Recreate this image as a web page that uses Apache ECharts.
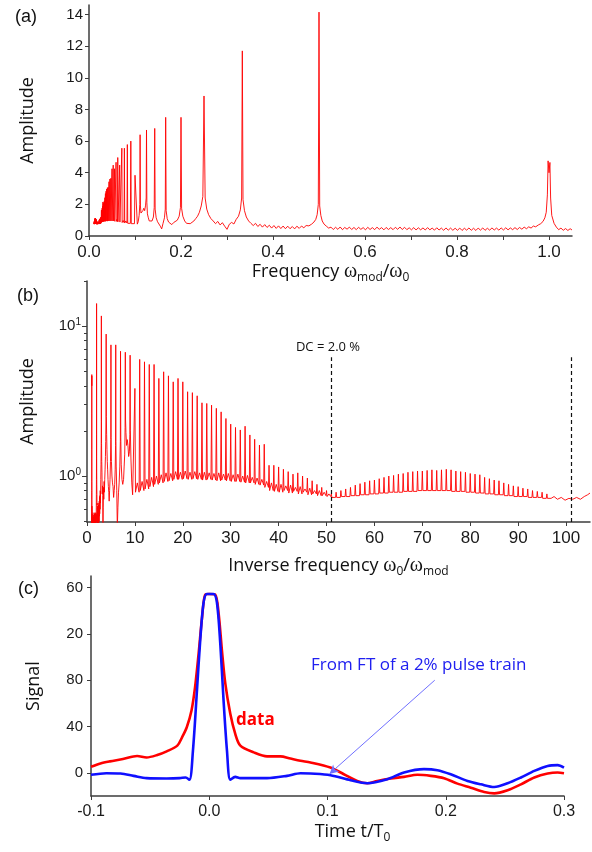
<!DOCTYPE html>
<html>
<head>
<meta charset="utf-8">
<script src="https://cdn.jsdelivr.net/npm/echarts@6/dist/echarts.min.js"></script>
<style>
  html, body { margin: 0; padding: 0; background: #fff; }
  #chart { width: 592px; height: 852px; }
</style>
</head>
<body>
<div id="chart"></div>
<script>
// (a)/(b): spectrum above omega_mod/omega_0 = 0.105, as [frequency, amplitude]
const spectrumHigh = [
  [0.105, 0.75], [0.107, 0.9], [0.109, 1.3], [0.1105, 2.0], [0.1111, 6.4], [0.1118, 1.9], [0.113, 1.45],
  [0.115, 1.35], [0.117, 1.6], [0.119, 1.75], [0.121, 1.6], [0.123, 1.95], [0.1243, 2.4], [0.125, 6.7], [0.1258, 2.1], [0.127, 1.4],
  [0.129, 1.15], [0.131, 0.95], [0.134, 0.88], [0.137, 0.95], [0.14, 1.2], [0.1418, 1.8], [0.1429, 6.8], [0.1438, 1.7], [0.146, 1.15],
  [0.149, 0.9], [0.152, 0.78], [0.155, 0.62], [0.158, 0.45], [0.161, 0.8], [0.164, 1.15], [0.1658, 1.7], [0.1667, 7.5], [0.1677, 1.6], [0.17, 1.1],
  [0.173, 0.88], [0.176, 0.8], [0.18, 0.72], [0.184, 0.85], [0.188, 0.9], [0.192, 1.0], [0.196, 1.25], [0.1988, 1.8], [0.2, 7.5], [0.2013, 1.75], [0.204, 1.25],
  [0.208, 0.95], [0.212, 0.8], [0.216, 0.68], [0.22, 0.78], [0.224, 0.85], [0.228, 0.95], [0.232, 1.1], [0.236, 1.25], [0.24, 1.5], [0.244, 1.9], [0.2475, 2.5], [0.25, 8.85], [0.2525, 2.4], [0.256, 1.7],
  [0.26, 1.35], [0.265, 1.1], [0.27, 0.95], [0.275, 0.78], [0.28, 0.92], [0.285, 0.7], [0.29, 0.84], [0.295, 0.62], [0.3, 0.42], [0.305, 0.74],
  [0.31, 0.86], [0.315, 0.76], [0.32, 1.05], [0.325, 1.25], [0.329, 1.65], [0.3318, 2.4], [0.3333, 11.7], [0.3348, 2.3], [0.338, 1.6], [0.342, 1.2],
  [0.347, 0.95], [0.352, 0.8], [0.357, 0.66], [0.362, 0.8], [0.367, 0.6], [0.372, 0.74], [0.377, 0.56], [0.382, 0.72], [0.387, 0.54], [0.392, 0.68],
  [0.397, 0.5], [0.402, 0.66], [0.407, 0.48], [0.412, 0.64], [0.417, 0.47], [0.422, 0.63], [0.427, 0.46], [0.432, 0.62], [0.437, 0.46], [0.442, 0.6],
  [0.447, 0.45], [0.452, 0.62], [0.457, 0.48], [0.462, 0.63], [0.467, 0.52], [0.472, 0.66], [0.478, 0.64], [0.484, 0.75], [0.489, 0.88], [0.493, 1.05],
  [0.496, 1.35], [0.4985, 2.0], [0.5, 14.15], [0.5015, 1.9], [0.504, 1.3], [0.507, 0.95], [0.511, 0.75], [0.516, 0.62], [0.521, 0.5],
  [0.526, 0.56], [0.531, 0.41], [0.536, 0.55], [0.541, 0.42], [0.546, 0.57], [0.551, 0.4], [0.556, 0.54], [0.561, 0.43], [0.566, 0.56], [0.571, 0.41],
  [0.576, 0.54], [0.581, 0.4], [0.586, 0.55], [0.591, 0.42], [0.596, 0.53], [0.601, 0.39], [0.606, 0.55], [0.611, 0.41], [0.616, 0.53], [0.621, 0.4],
  [0.626, 0.56], [0.631, 0.42], [0.636, 0.53], [0.641, 0.39], [0.646, 0.54], [0.651, 0.41], [0.656, 0.53], [0.661, 0.4], [0.666, 0.55], [0.671, 0.42],
  [0.676, 0.57], [0.681, 0.41], [0.686, 0.55], [0.691, 0.4], [0.696, 0.52], [0.701, 0.39], [0.706, 0.53], [0.711, 0.38], [0.716, 0.52], [0.721, 0.39],
  [0.726, 0.51], [0.731, 0.38], [0.736, 0.53], [0.741, 0.39], [0.746, 0.5], [0.751, 0.37], [0.756, 0.52], [0.761, 0.38], [0.766, 0.5], [0.771, 0.36],
  [0.776, 0.51], [0.781, 0.37], [0.786, 0.5], [0.791, 0.36], [0.796, 0.49], [0.801, 0.36], [0.806, 0.5], [0.811, 0.35], [0.816, 0.49], [0.821, 0.37],
  [0.826, 0.51], [0.831, 0.36], [0.836, 0.49], [0.841, 0.35], [0.846, 0.5], [0.851, 0.37], [0.856, 0.51], [0.861, 0.36], [0.866, 0.49], [0.871, 0.37],
  [0.876, 0.51], [0.881, 0.38], [0.886, 0.5], [0.891, 0.37], [0.896, 0.51], [0.901, 0.38], [0.906, 0.52], [0.911, 0.39], [0.916, 0.51], [0.921, 0.4],
  [0.926, 0.53], [0.931, 0.41], [0.936, 0.54], [0.941, 0.43], [0.946, 0.56], [0.951, 0.46], [0.956, 0.58], [0.961, 0.5], [0.966, 0.63], [0.971, 0.58],
  [0.977, 0.7], [0.982, 0.78], [0.987, 0.92], [0.991, 1.15], [0.994, 1.5], [0.9965, 2.6], [0.998, 4.75], [1.0, 4.0], [1.002, 4.65], [1.0035, 2.4],
  [1.006, 1.3], [1.011, 0.8], [1.016, 0.56], [1.021, 0.4], [1.026, 0.5], [1.031, 0.36], [1.036, 0.47], [1.041, 0.35], [1.046, 0.46], [1.05, 0.38]
];

// (b): harmonic peaks at inverse frequency n = omega_0/omega_mod, with the level between peaks
const harmonicN = [
  10, 11, 12, 13, 14, 15, 16, 17, 18, 19, 20, 21, 22, 23, 24, 25, 26, 27, 28, 29,
  30, 31, 32, 33, 34, 35, 36, 37, 38, 39, 40, 41, 42, 43, 44, 45, 46, 47, 48, 49,
  50, 51, 52, 53, 54, 55, 56, 57, 58, 59, 60, 61, 62, 63, 64, 65, 66, 67, 68, 69,
  70, 71, 72, 73, 74, 75, 76, 77, 78, 79, 80, 81, 82, 83, 84, 85, 86, 87, 88, 89,
  90, 91, 92, 93, 94, 95, 96
];
const harmonicPeak = [
  3.84, 6.0, 5.78, 5.55, 5.55, 4.48, 4.96, 4.66, 4.25, 4.48, 4.25, 3.65, 3.6, 3.43, 3.08, 3.05, 2.97, 2.83, 2.68, 2.42,
  2.22, 2.11, 2.03, 2.15, 1.88, 1.76, 1.61, 1.63, 1.18, 1.18, 1.15, 1.11, 1.07, 1.03, 1.05, 1.0, 0.97, 0.93, 0.88, 0.84,
  0.8, 0.76, 0.78, 0.8, 0.82, 0.84, 0.87, 0.89, 0.91, 0.93, 0.94, 0.96, 0.98, 1.0, 1.01, 1.03, 1.04, 1.06, 1.07, 1.08,
  1.08, 1.09, 1.1, 1.09, 1.1, 1.11, 1.1, 1.08, 1.07, 1.06, 1.04, 1.03, 1.02, 0.98, 0.96, 0.94, 0.93, 0.9, 0.88, 0.86,
  0.85, 0.83, 0.82, 0.8, 0.79, 0.78, 0.76
];
const harmonicTrough = [
  0.78, 0.8, 0.82, 0.85, 0.88, 0.9, 0.92, 0.93, 0.95, 0.95, 0.96, 0.95, 0.96, 0.95, 0.94, 0.95, 0.94, 0.93, 0.94, 0.93,
  0.92, 0.92, 0.91, 0.9, 0.9, 0.88, 0.87, 0.84, 0.8, 0.79, 0.78, 0.8, 0.77, 0.79, 0.76, 0.78, 0.75, 0.76, 0.74, 0.74,
  0.73, 0.72, 0.72, 0.73, 0.73, 0.74, 0.74, 0.75, 0.75, 0.76, 0.76, 0.77, 0.77, 0.78, 0.78, 0.78, 0.79, 0.79, 0.79, 0.8,
  0.8, 0.8, 0.8, 0.8, 0.8, 0.8, 0.79, 0.79, 0.79, 0.78, 0.78, 0.77, 0.77, 0.76, 0.76, 0.75, 0.75, 0.74, 0.74, 0.73,
  0.73, 0.73, 0.72, 0.72, 0.72, 0.71, 0.71
];
const harmonicSide = [
  0.9, 0.92, 0.95, 0.98, 1.0, 1.02, 1.05, 1.04, 1.07, 1.06, 1.08, 1.06, 1.07, 1.05, 1.06, 1.05, 1.04, 1.05, 1.03, 1.04,
  1.02, 1.03, 1.0, 1.01, 0.98, 0.97, 0.95, 0.92, 0.9, 0.88, 0.88, 0.86, 0.87, 0.84, 0.85, 0.82, 0.83, 0.8, 0.8, 0.78,
  0.76, 0.74, 0.74, 0.75, 0.75, 0.76, 0.76, 0.77, 0.77, 0.78, 0.78, 0.79, 0.79, 0.8, 0.8, 0.8, 0.81, 0.81, 0.81, 0.82,
  0.82, 0.82, 0.82, 0.82, 0.82, 0.82, 0.81, 0.81, 0.81, 0.8, 0.8, 0.79, 0.79, 0.78, 0.78, 0.77, 0.77, 0.76, 0.76, 0.75,
  0.75, 0.74, 0.73, 0.73, 0.73, 0.72, 0.72
];
const spectrumTail = [
  [97.5, 0.73], [98.2, 0.7], [99, 0.72], [99.8, 0.69], [100.6, 0.71], [101.4, 0.7],
  [102.2, 0.72], [103, 0.7], [103.8, 0.73], [104.5, 0.75], [105, 0.77]
];
const dcLines = [51, 101];
const dcLineTop = 6.2;
const logMinorTicks = [0.5, 0.6, 0.7, 0.8, 0.9, 2, 3, 4, 5, 6, 7, 8, 9, 20];

// (c): time traces, [t/T0, signal]
const dataTrace = [
  [-0.1, 5.2], [-0.092, 8.1], [-0.084, 9.9], [-0.073, 11.9], [-0.061, 14.5], [-0.053, 13.3], [-0.044, 15.4], [-0.036, 18.6],
  [-0.027, 23.5], [-0.023, 30.7], [-0.019, 39.4], [-0.015, 53.9], [-0.012, 74], [-0.009, 103], [-0.006, 135], [-0.0034, 154],
  [0, 154.5], [0.005, 154], [0.0079, 138], [0.0107, 106], [0.0136, 77], [0.0178, 51], [0.022, 33.6], [0.0263, 23.5],
  [0.0376, 17.7], [0.0489, 14.2], [0.0602, 14.2], [0.0686, 12.3], [0.0771, 10.4], [0.0856, 9], [0.1025, 4.6], [0.1138, -1.2],
  [0.1251, -7], [0.1336, -9], [0.142, -7], [0.1534, -4.9], [0.1647, -3.5], [0.176, -1.7], [0.1873, -2.6], [0.1986, -4.6],
  [0.2099, -9.3], [0.2212, -12.8], [0.2325, -16.5], [0.241, -17.7], [0.2523, -15], [0.2636, -9.9], [0.2749, -4], [0.2862, -0.6],
  [0.2946, 0.3], [0.3, -0.3]
];
const ftTrace = [
  [-0.1, -1.7], [-0.087, -0.3], [-0.075, -0.6], [-0.064, -2.6], [-0.053, -4.6], [-0.036, -4.9], [-0.025, -4.6], [-0.02, -4],
  [-0.0167, -6], [-0.0138, 19], [-0.0104, 71], [-0.0076, 115], [-0.0048, 147], [-0.002, 154.5], [0.0036, 154.5], [0.0065, 147],
  [0.0093, 112], [0.0121, 62.6], [0.015, 19], [0.0178, -6], [0.022, -3.5], [0.0263, -4.6], [0.0489, -4.6], [0.0658, -2.6],
  [0.0771, -0.3], [0.0856, -0.6], [0.1025, -2], [0.1195, -6.4], [0.1336, -9], [0.1506, -5.5], [0.1647, 0.3], [0.1816, 3.2],
  [0.1929, 2.3], [0.2042, -1.2], [0.2184, -7], [0.2297, -9.9], [0.241, -12.2], [0.2523, -9], [0.2636, -4], [0.2749, 1.7],
  [0.2862, 6], [0.2946, 6.7], [0.3, 4.6]
];
const arrowFrom = [0.1907, 80];
const arrowTo = [0.1017, -0.9];

// tick values / labels
const freqTicks = [0, 0.1, 0.2, 0.3, 0.4, 0.5, 0.6, 0.7, 0.8, 0.9, 1.0];
const freqLabels = [0, 0.2, 0.4, 0.6, 0.8, 1.0];
const ampTicks = [0, 2, 4, 6, 8, 10, 12, 14];
const invTicks = [0, 10, 20, 30, 40, 50, 60, 70, 80, 90, 100];
const logTicks = [1, 10];
const signalTicks = [0, 40, 80, 120, 160];
const signalTickLabels = ['0', '40', '80', '20', '60'];

// build the joined spectrum for both views
const harmonicData = [];
harmonicN.forEach((n, i) => {
  harmonicData.push(
    [n, harmonicPeak[i]], [n + 0.12, harmonicTrough[i]],
    [n + 0.5, harmonicSide[i]], [n + 0.88, harmonicTrough[i]]
  );
});
const lowInv = harmonicData.concat(spectrumTail);
const panelBData = spectrumHigh.map(([f, a]) => [1 / f, a]).reverse().concat(lowInv);
const panelAData = lowInv.map(([n, a]) => [1 / n, a]).reverse().concat(spectrumHigh);

const AXIS_COLOR = '#3c3c3c';
const TICK_FONT = 'Liberation Sans';
const TITLE_FONT = 'Open Sans';
const RED = '#ff0000';
const BLUE = '#1010ff';
const LOG_MIN = 0.4937;
const LOG_MAX = 20;

const titleRich = {
  t: { fontFamily: TITLE_FONT, fontSize: 18, color: '#111', lineHeight: 24 },
  w: { fontFamily: 'Liberation Serif', fontSize: 20, color: '#111', lineHeight: 24 },
  s: { fontFamily: TITLE_FONT, fontSize: 12, color: '#111', lineHeight: 12, verticalAlign: 'bottom' }
};

function axisBase(extra) {
  return Object.assign({
    type: 'value',
    axisLine: { show: true, onZero: false, lineStyle: { color: AXIS_COLOR, width: 1.5 } },
    axisTick: { show: true, inside: false, length: 4, lineStyle: { color: AXIS_COLOR, width: 1 } },
    splitLine: { show: false },
    nameLocation: 'middle'
  }, extra);
}

const chart = echarts.init(document.getElementById('chart'), null, { renderer: 'canvas' });

chart.setOption({
  animation: false,
  backgroundColor: '#fff',
  grid: [
    { left: 89, top: 5, width: 483, height: 231 },
    { left: 87, top: 281, width: 503, height: 241 },
    { left: 91, top: 576, width: 473, height: 220 }
  ],
  xAxis: [
    axisBase({
      gridIndex: 0, min: 0, max: 1.05, interval: 0.1,
      axisTick: { show: true, length: 4, customValues: freqTicks, lineStyle: { color: AXIS_COLOR } },
      axisLabel: { customValues: freqLabels, formatter: v => v.toFixed(1), fontFamily: TICK_FONT, fontSize: 17, color: '#1a1a1a', margin: 8 },
      name: '{t|Frequency }{w|ω}{s|mod}{t|/}{w|ω}{s|0}', nameGap: 22, nameTextStyle: { rich: titleRich }
    }),
    axisBase({
      gridIndex: 1, min: 0, max: 105, interval: 10,
      axisTick: { show: true, length: 4, customValues: invTicks, lineStyle: { color: AXIS_COLOR } },
      axisLabel: { customValues: invTicks, fontFamily: TICK_FONT, fontSize: 17, color: '#1a1a1a', margin: 8 },
      name: '{t|Inverse frequency }{w|ω}{s|0}{t|/}{w|ω}{s|mod}', nameGap: 32, nameTextStyle: { rich: titleRich }
    }),
    axisBase({
      gridIndex: 2, min: -0.1, max: 0.3, interval: 0.1,
      axisLabel: { formatter: v => v.toFixed(1), fontFamily: TICK_FONT, fontSize: 16, color: '#1a1a1a', margin: 8 },
      name: '{t|Time t/T}{s|0}', nameGap: 24, nameTextStyle: { rich: titleRich, padding: [0, 0, 0, 50] }
    })
  ],
  yAxis: [
    axisBase({
      gridIndex: 0, min: 0, max: 14.6, interval: 2,
      axisTick: { show: true, length: 4, customValues: ampTicks, lineStyle: { color: AXIS_COLOR } },
      axisLabel: { customValues: ampTicks, fontFamily: TICK_FONT, fontSize: 15, color: '#1a1a1a', margin: 6 },
      name: 'Amplitude', nameGap: 52, nameTextStyle: { fontFamily: TITLE_FONT, fontSize: 18, color: '#111' }
    }),
    axisBase({
      gridIndex: 1, type: 'log', logBase: 10, min: LOG_MIN, max: LOG_MAX, position: 'left',
      axisTick: { show: true, length: 5, customValues: logTicks, lineStyle: { color: AXIS_COLOR } },
      axisLabel: {
        customValues: logTicks,
        formatter: v => '{b|10}{p|' + Math.round(Math.log10(v)) + '}',
        margin: 6,
        rich: {
          b: { fontFamily: TICK_FONT, fontSize: 15, color: '#1a1a1a', lineHeight: 18 },
          p: { fontFamily: TICK_FONT, fontSize: 10, color: '#1a1a1a', lineHeight: 10, verticalAlign: 'top' }
        }
      },
      name: 'Amplitude', nameGap: 50, nameTextStyle: { fontFamily: TITLE_FONT, fontSize: 18, color: '#111' }
    }),
    axisBase({
      gridIndex: 2, min: -20, max: 170,
      axisTick: { show: true, length: 4, customValues: signalTicks, lineStyle: { color: AXIS_COLOR } },
      axisLabel: {
        customValues: signalTicks,
        formatter: v => signalTickLabels[signalTicks.indexOf(v)],
        fontFamily: TICK_FONT, fontSize: 15, color: '#1a1a1a', margin: 8
      },
      name: 'Signal', nameGap: 48, nameTextStyle: { fontFamily: TITLE_FONT, fontSize: 18, color: '#111' }
    }),
    // minor decade ticks for the log axis of (b)
    {
      type: 'log', logBase: 10, gridIndex: 1, min: LOG_MIN, max: LOG_MAX, position: 'left', offset: 0,
      axisLine: { show: false },
      axisTick: { show: true, inside: false, length: 3, customValues: logMinorTicks, lineStyle: { color: AXIS_COLOR, width: 1 } },
      axisLabel: { show: false },
      splitLine: { show: false }
    }
  ],
  series: [
    {
      type: 'line', xAxisIndex: 0, yAxisIndex: 0, data: panelAData,
      showSymbol: false, silent: true,
      lineStyle: { color: RED, width: 0.9 }
    },
    {
      type: 'line', xAxisIndex: 1, yAxisIndex: 1, data: panelBData,
      showSymbol: false, silent: true,
      lineStyle: { color: RED, width: 0.9 },
      markLine: {
        silent: true, symbol: 'none', label: { show: false },
        lineStyle: { color: '#111', width: 1.2, type: [4, 3] },
        data: dcLines.map(n => [{ coord: [n, LOG_MIN] }, { coord: [n, dcLineTop] }])
      }
    },
    {
      type: 'line', xAxisIndex: 2, yAxisIndex: 2, data: dataTrace,
      showSymbol: false, silent: true, smooth: 0.3,
      lineStyle: { color: RED, width: 2.6 }
    },
    {
      type: 'line', xAxisIndex: 2, yAxisIndex: 2, data: ftTrace,
      showSymbol: false, silent: true, smooth: 0.3,
      lineStyle: { color: BLUE, width: 2.6 },
      markLine: {
        silent: true, symbol: ['none', 'arrow'], symbolSize: [7, 9], label: { show: false },
        lineStyle: { color: '#7070ff', width: 1, type: 'solid' },
        data: [[{ coord: arrowFrom }, { coord: arrowTo }]]
      }
    }
  ],
  graphic: [
    { type: 'text', x: 15, y: 17, style: { text: '(a)', font: '18px "Liberation Sans"', fill: '#111', verticalAlign: 'middle' } },
    { type: 'text', x: 17, y: 296, style: { text: '(b)', font: '18px "Liberation Sans"', fill: '#111', verticalAlign: 'middle' } },
    { type: 'text', x: 18, y: 589, style: { text: '(c)', font: '18px "Liberation Sans"', fill: '#111', verticalAlign: 'middle' } },
    { type: 'text', x: 328, y: 347, style: { text: 'DC = 2.0 %', font: '13px "Open Sans"', fill: '#111', align: 'center', verticalAlign: 'middle' } },
    { type: 'text', x: 311, y: 665, style: { text: 'From FT of a 2% pulse train', font: '17px "Open Sans"', fill: '#2020f0', verticalAlign: 'middle' } },
    { type: 'text', x: 236, y: 720, style: { text: 'data', font: 'bold 17px "Open Sans"', fill: RED, verticalAlign: 'middle' } }
  ]
});
</script>
</body>
</html>
